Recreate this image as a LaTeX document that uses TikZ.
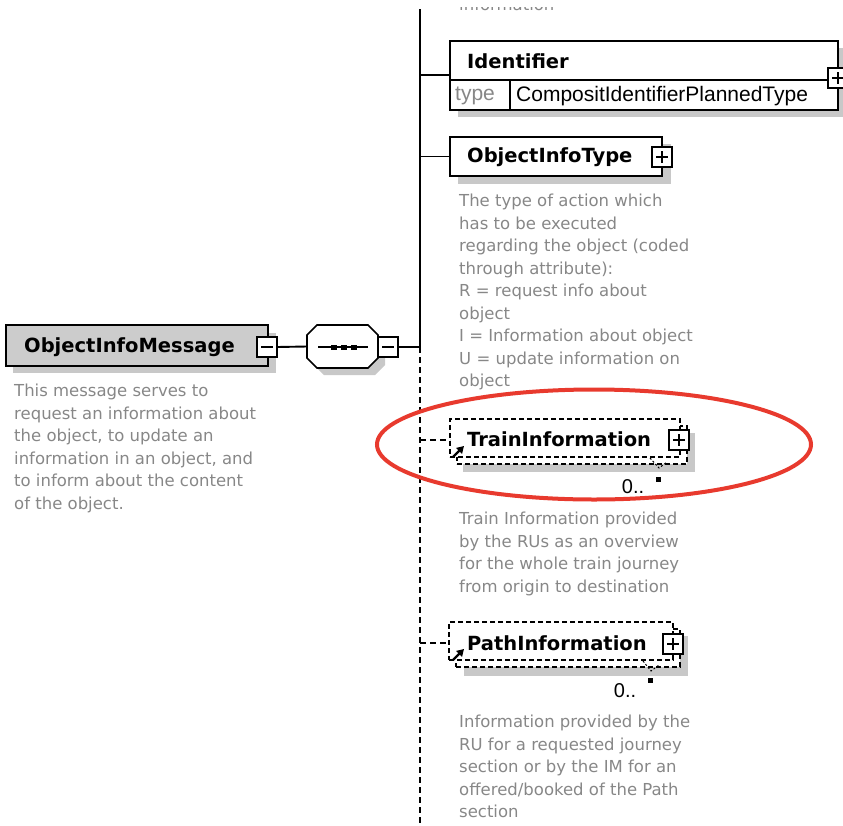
\documentclass[tikz,border=0pt]{standalone}
\usepackage{fontspec}
\setmainfont{DejaVu Sans}
\newfontfamily\arialfont{Liberation Sans}
\usetikzlibrary{arrows.meta}
\definecolor{descgray}{RGB}{135,135,135}
\definecolor{shadowgray}{RGB}{200,200,200}
\definecolor{boxgray}{RGB}{204,204,204}
\definecolor{markred}{RGB}{232,58,46}
\tikzset{
  elem/.style={draw=black, line width=1.8pt, fill=white, inner sep=0pt, outer sep=0pt, anchor=north west},
  optelem/.style={elem, dash pattern=on 5pt off 3pt, line width=1.8pt},
  namelbl/.style={font=\fontsize{19.5}{23}\selectfont\bfseries, inner sep=0pt, anchor=west},
  desc/.style={text=descgray, font=\fontsize{16.5}{22.5}\selectfont, align=left, anchor=north west, inner sep=0pt},
  conn/.style={line width=1.9pt},
  dconn/.style={line width=2.3pt, dash pattern=on 6pt off 4pt},
  pmbox/.style={draw, line width=1.6pt, fill=white, minimum size=20pt, inner sep=0pt, outer sep=0pt},
  minusbox/.style={pmbox, path picture={
      \draw[line width=1.5pt] ([xshift=4pt]path picture bounding box.west) -- ([xshift=-4pt]path picture bounding box.east);}},
  plusbox/.style={pmbox, path picture={
      \draw[line width=1.5pt] ([xshift=4pt]path picture bounding box.west) -- ([xshift=-4pt]path picture bounding box.east);
      \draw[line width=1.5pt] ([yshift=-4pt]path picture bounding box.north) -- ([yshift=4pt]path picture bounding box.south);}},
  mult/.style={font=\arialfont\fontsize{20}{24}\selectfont, inner sep=0pt},
  refarrow/.style={line width=2.4pt, -{Triangle[length=7pt,width=8pt]}},
  seqdot/.style={fill=black, draw=none, minimum width=6pt, minimum height=5pt, inner sep=0pt}
}
\begin{document}
\begin{tikzpicture}[x=1pt,y=-1pt]
\useasboundingbox (0,0) rectangle (843,825);

% trunk of the sequence
\coordinate (trunktop) at (420,9);
\coordinate (junction) at (420,347);
\coordinate (trunkend) at (420,830);

% ---------------- root element ----------------
\fill[shadowgray] (13,333) rectangle (276,373);
\node[elem, fill=boxgray, minimum width=262pt, minimum height=41pt] (msg) at (6,325) {};
\node[namelbl] (msglbl) at (24,347) {ObjectInfoMessage};
\node[minusbox] (msgminus) at (267,347) {};
\node[desc] (msgdesc) at (14,384) {This message serves to\\request an information about\\the object, to update an\\information in an object, and\\to inform about the content\\of the object.};

% ---------------- sequence compositor ----------------
\fill[shadowgray] (324,332) -- (375,332) -- (385,342) -- (385,365) -- (375,375) -- (324,375) -- (314,365) -- (314,342) -- cycle;
\draw[line width=1.7pt, fill=white] (317,325) -- (368,325) -- (378,335) -- (378,358) -- (368,368) -- (317,368) -- (307,358) -- (307,335) -- cycle;
\node[minimum width=71pt, minimum height=43pt, inner sep=0pt, outer sep=0pt] (seq) at (342.5,346.5) {};
\draw[line width=1.6pt] (318,347) -- (368,347);
\node[seqdot] (d1) at (334,347) {};
\node[seqdot] (d2) at (344,347) {};
\node[seqdot] (d3) at (354,347) {};
\node[minusbox] (seqminus) at (388,347) {};

\draw[conn] (msgminus.east) -- (seq.west);
\draw[conn] (seqminus.east) -- (junction);
\draw[conn] (trunktop) -- (junction);
\draw[dconn] (junction) -- (trunkend);

% lower edge of the preceding child's description, cut by the frame
\begin{scope}
  \clip (450,7.5) rectangle (600,11);
  \node[text=descgray, font=\fontsize{16.5}{22.5}\selectfont, inner sep=0pt, anchor=base west] (prevdesc) at (459,10.5) {information};
\end{scope}

% ---------------- Identifier ----------------
\fill[shadowgray] (458,48) rectangle (848,117);
\node[elem, minimum width=388pt, minimum height=69pt] (ident) at (450,41) {};
\draw[line width=1.4pt] (450,80) -- (838,80);
\draw[line width=1.4pt] (510,80) -- (510,110);
\node[namelbl] (identlbl) at (467,61) {Identifier};
\node[font=\arialfont\fontsize{21}{24}\selectfont, text=descgray, inner sep=0pt, anchor=west] (identkey) at (455,96) {type};
\node[font=\arialfont\fontsize{21}{24}\selectfont, inner sep=0pt, anchor=west] (identtype) at (516,96) {CompositIdentifierPlannedType};
\node[plusbox] (identplus) at (838,78) {};
\draw[conn] (trunktop |- 0,75) -- (ident.west |- 0,75);

% ---------------- ObjectInfoType ----------------
\fill[shadowgray] (458,144) rectangle (671,184);
\node[elem, minimum width=212pt, minimum height=39pt] (oit) at (450,137) {};
\node[namelbl] (oitlbl) at (467,157.5) {ObjectInfoType};
\node[plusbox] (oitplus) at (662,157) {};
\draw[conn] (trunktop |- oit.west) -- (oit.west);
\node[desc] (oitdesc) at (459,194) {The type of action which\\has to be executed\\regarding the object (coded\\through attribute):\\R = request info about\\object\\I = Information about object\\U = update information on\\object};

% ---------------- TrainInformation ----------------
\fill[shadowgray] (463,433) rectangle (695,472);
\node[optelem, minimum width=230pt, minimum height=38pt] (trainback) at (457,426) {};
\node[optelem, minimum width=230pt, minimum height=38pt] (train) at (450,419) {};
\node[namelbl] (trainlbl) at (467,439.5) {TrainInformation};
\node[plusbox] (trainplus) at (679,440) {};
\coordinate (trainarrA) at (453,457);
\coordinate (trainarrB) at (464,446);
\draw[refarrow] (trainarrA) -- (trainarrB);
\draw[dconn] (trunktop |- 0,440) -- (train.west |- 0,440);
\draw[line width=1pt, dash pattern=on 2pt off 2pt] (650,458) -- (659,468) -- (667,462);
\fill (656,477) rectangle (661,482);
\node[mult] (trainmult) at (633,487) {0..};
\node[desc] (traindesc) at (459,512) {Train Information provided\\by the RUs as an overview\\for the whole train journey\\from origin to destination};

% ---------------- PathInformation ----------------
\fill[shadowgray] (464,636) rectangle (688,676);
\node[optelem, minimum width=224pt, minimum height=38pt] (pathback) at (456,629) {};
\node[optelem, minimum width=224pt, minimum height=38pt] (path) at (449,622) {};
\node[namelbl] (pathlbl) at (467,643) {PathInformation};
\node[plusbox] (pathplus) at (673,644) {};
\coordinate (patharrA) at (453,660);
\coordinate (patharrB) at (464,649);
\draw[refarrow] (patharrA) -- (patharrB);
\draw[dconn] (trunktop |- 0,643) -- (path.west |- 0,643);
\draw[line width=1pt, dash pattern=on 2pt off 2pt] (643,661) -- (651,671) -- (659,665);
\fill (648,678) rectangle (653,683);
\node[mult] (pathmult) at (625,691) {0..};
\node[desc] (pathdesc) at (459,715) {Information provided by the\\RU for a requested journey\\section or by the IM for an\\offered/booked of the Path\\section};

% ---------------- highlight ----------------
\draw[markred, line width=4pt] (594,444.5) ellipse [x radius=217pt, y radius=55pt];
\end{tikzpicture}
\end{document}
